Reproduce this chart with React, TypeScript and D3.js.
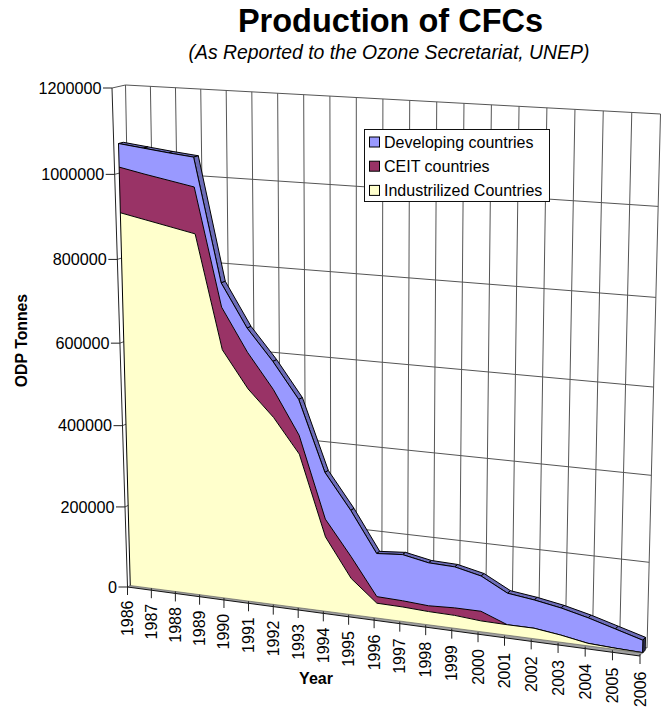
import { useEffect, useRef } from "react";
import * as d3 from "d3";

const YEARS = d3.range(1986, 2007);
const VALUE_TICKS = [0, 200000, 400000, 600000, 800000, 1000000, 1200000];
const INDUSTRIALIZED = [907000, 895000, 883000, 871000, 603000, 516000, 454000, 373000, 181000, 88000, 36000, 35000, 32000, 31000, 26000, 25000, 25000, 17000, 6000, 3000, 1000];
const CEIT = [107000, 107000, 108000, 109000, 101000, 87000, 67000, 45000, 43000, 53000, 16000, 15000, 14000, 18000, 23000, 0, 0, 0, 0, 0, 0];
const DEVELOPING = [55000, 60000, 64000, 69000, 57000, 57000, 66000, 85000, 112000, 111000, 104000, 111000, 103000, 98000, 84000, 75000, 67000, 64000, 60000, 45000, 29000];
const LEGEND = ["Developing countries", "CEIT countries", "Industrilized Countries"];

const FONT = "'Liberation Sans', Arial, sans-serif";
const COLORS = { dev: "#9999ff", ceit: "#993366", ind: "#ffffcc", devTop: "#6c6cb8", devEnd: "#33335c", floor: "#a0a0a0", grid: "#555" };

type Pt = [number, number];

// maps the unit square on a quad: bottom left, bottom right, top right, top left
function homography(q: Pt[]) {
  const [[x0, y0], [x1, y1], [x2, y2], [x3, y3]] = q;
  const dx1 = x1 - x2, dx2 = x3 - x2, sx = x0 - x1 + x2 - x3;
  const dy1 = y1 - y2, dy2 = y3 - y2, sy = y0 - y1 + y2 - y3;
  const den = dx1 * dy2 - dx2 * dy1;
  const g = (sx * dy2 - dx2 * sy) / den;
  const h = (dx1 * sy - sx * dy1) / den;
  const a = x1 - x0 + g * x1, b = x3 - x0 + h * x3;
  const d = y1 - y0 + g * y1, e = y3 - y0 + h * y3;
  return (u: number, v: number): Pt => {
    const w = g * u + h * v + 1;
    return [(a * u + b * v + x0) / w, (d * u + e * v + y0) / w];
  };
}

const front = homography([[127.5, 587], [640, 656], [649, 119.5], [112, 88]]);
const back = homography([[135, 583], [647, 648], [660.5, 114], [125.5, 85]]);

const FACE = 0.37;
const REAR = 0.74;

export default function App() {
  const svgRef = useRef<SVGSVGElement>(null);

  useEffect(() => {
    if (!svgRef.current) return;
    const svg = d3.select(svgRef.current);
    svg.selectAll("*").remove();

    const x = d3.scaleLinear().domain([1986, 2006]).range([0, 1]);
    const y = d3.scaleLinear().domain([0, 1200000]).range([0, 1]);

    // year, value, depth (0 = axis plane, 1 = back wall)
    const project = (yr: number, val: number, depth: number): Pt => {
      const f = front(x(yr), y(val));
      const b = back(x(yr), y(val));
      return [f[0] + (b[0] - f[0]) * depth, f[1] + (b[1] - f[1]) * depth];
    };
    const path = d3.line();
    const seg = (a: Pt, b: Pt, stroke: string, w = 1) =>
      svg.append("path").attr("d", path([a, b])).attr("fill", "none").attr("stroke", stroke).attr("stroke-width", w);

    // Grille
    YEARS.forEach(yr => seg(project(yr, 0, 1), project(yr, 1200000, 1), COLORS.grid));
    VALUE_TICKS.forEach(v => {
      seg(project(1986, v, 1), project(2006, v, 1), COLORS.grid);
      seg(project(1986, v, 0), project(1986, v, 1), COLORS.grid);
    });

    // Sol
    svg.append("path")
      .attr("d", path([project(1986, 0, 0), project(2006, 0, 0), project(2006, 0, REAR), project(1986, 0, REAR)]) + "Z")
      .attr("fill", COLORS.floor).attr("stroke", "none");

    // Empilement
    const rows = YEARS.map((yr, i) => ({ yr, ind: INDUSTRIALIZED[i], ceit: CEIT[i], dev: DEVELOPING[i] }));
    const stacked = d3.stack<typeof rows[0]>().keys(["ind", "ceit", "dev"])(rows);
    const total = stacked[2];

    // Dessus de la serie haute
    total.forEach((d, i) => {
      if (i === total.length - 1) return;
      const yr = rows[i].yr;
      svg.append("path")
        .attr("d", path([
          project(yr, d[1], FACE), project(yr + 1, total[i + 1][1], FACE),
          project(yr + 1, total[i + 1][1], REAR), project(yr, d[1], REAR),
        ]) + "Z")
        .attr("fill", COLORS.devTop).attr("stroke", "#000").attr("stroke-width", 1).attr("stroke-linejoin", "round");
    });

    // Bout droit
    const last = total[total.length - 1];
    svg.append("path")
      .attr("d", path([project(2006, 0, FACE), project(2006, last[1], FACE), project(2006, last[1], REAR), project(2006, 0, REAR)]) + "Z")
      .attr("fill", COLORS.devEnd).attr("stroke", "#000").attr("stroke-width", 1);

    // Faces avant
    const area = d3.area<{ yr: number; lo: number; hi: number }>()
      .x0(d => project(d.yr, d.lo, FACE)[0]).y0(d => project(d.yr, d.lo, FACE)[1])
      .x1(d => project(d.yr, d.hi, FACE)[0]).y1(d => project(d.yr, d.hi, FACE)[1]);
    const fills = [COLORS.ind, COLORS.ceit, COLORS.dev];
    [2, 1, 0].forEach(k => {
      const pts = stacked[k].map((d, i) => ({ yr: rows[i].yr, lo: d[0], hi: d[1] }));
      svg.append("path").attr("d", area(pts)).attr("fill", fills[k]).attr("stroke", "none");
      svg.append("path")
        .attr("d", path(pts.map(p => project(p.yr, p.hi, FACE))))
        .attr("fill", "none").attr("stroke", "#000").attr("stroke-width", 1);
    });
    seg(project(1986, 0, FACE), project(1986, total[0][1], FACE), "#000");
    seg(project(2006, 0, FACE), project(2006, last[1], FACE), "#000");
    seg(project(1986, 0, FACE), project(2006, 0, FACE), "#555", 0.6);

    // Axes
    seg(project(1986, 0, 0), project(1986, 1200000, 0), "#222");
    seg(project(1986, 0, 0), project(2006, 0, 0), "#111");

    VALUE_TICKS.forEach(v => {
      const [px, py] = project(1986, v, 0);
      seg([px - 9, py], [px, py], "#222");
      svg.append("text").attr("x", px - 10.5).attr("y", py + 5.8)
        .attr("text-anchor", "end").attr("font-size", 16.2).attr("font-family", FONT).attr("fill", "#000")
        .text(v);
    });

    YEARS.forEach(yr => {
      const [px, py] = project(yr, 0, 0);
      seg([px, py - 2], [px, py + 8], "#222");
      svg.append("text")
        .attr("transform", `translate(${px + 5.5},${py + 13.5 + x(yr) * 2}) rotate(-90)`)
        .attr("text-anchor", "end").attr("font-size", 16).attr("font-family", FONT).attr("fill", "#000")
        .text(yr);
    });

    // Titres
    const label = (t: string, tx: number, ty: number, size: number, extra: Record<string, string> = {}) => {
      const el = svg.append("text").attr("x", tx).attr("y", ty).attr("text-anchor", "middle")
        .attr("font-family", FONT).attr("font-size", size).attr("fill", "#000").text(t);
      Object.entries(extra).forEach(([k, v]) => el.attr(k, v));
    };
    label("Production of CFCs", 390.5, 32, 32.5, { "font-weight": "bold" });
    label("(As Reported to the Ozone Secretariat, UNEP)", 389, 59, 19.4, { "font-style": "italic" });
    label("Year", 316, 684, 16, { "font-weight": "bold" });
    label("ODP Tonnes", 0, 0, 15.8, { "font-weight": "bold", transform: "translate(27,340.5) rotate(-90)" });

    // Legende
    const lg = svg.append("g");
    lg.append("rect").attr("x", 364.5).attr("y", 129.5).attr("width", 185).attr("height", 72)
      .attr("fill", "#fff").attr("stroke", "#111");
    LEGEND.forEach((t, i) => {
      const top = 137 + i * 24.2;
      lg.append("rect").attr("x", 369.5).attr("y", top).attr("width", 10).attr("height", 10)
        .attr("fill", fills[2 - i]).attr("stroke", "#000");
      lg.append("text").attr("x", 384).attr("y", top + 10.5)
        .attr("font-family", FONT).attr("font-size", 16).attr("fill", "#000").text(t);
    });
  }, []);

  return <svg ref={svgRef} width={669} height={722} style={{ position: "absolute", left: 0, top: 0, display: "block" }} />;
}
